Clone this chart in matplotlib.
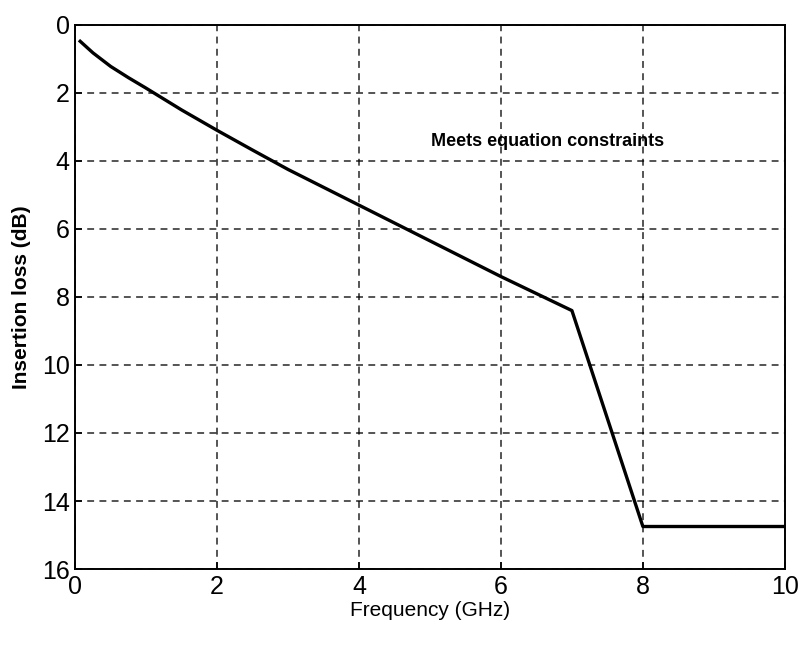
import matplotlib
matplotlib.use('agg')
import matplotlib.pyplot as plt
from matplotlib import font_manager

# insertion loss curve
freq = [0.07, 0.25, 0.5, 0.75, 1.0, 1.5, 2.0, 2.5, 3.0, 4.0, 5.0, 6.0, 7.0, 8.0, 10.0]
loss = [0.48, 0.82, 1.22, 1.55, 1.86, 2.5, 3.1, 3.68, 4.25, 5.3, 6.35, 7.4, 8.4, 14.75, 14.75]
xticks = [0, 2, 4, 6, 8, 10]
yticks = [0, 2, 4, 6, 8, 10, 12, 14, 16]

names = {f.name for f in font_manager.fontManager.ttflist}
fam = ['Liberation Sans Narrow', 'DejaVu Sans'] if 'Liberation Sans Narrow' in names else ['Liberation Sans', 'DejaVu Sans']
plt.rcParams['font.family'] = fam

fig = plt.figure(figsize=(8, 6.5), dpi=100)
ax = fig.add_axes([0.094, 0.1246, 0.887, 0.837])

ax.plot(freq, loss, color='black', lw=2.4)

ax.set_xlim(0, 10)
ax.set_ylim(16, 0)
ax.set_xticks(xticks)
ax.set_yticks(yticks)
ax.tick_params(direction='in', length=5, width=1.2, labelsize=18, pad=4)
ax.grid(True, color='black', ls=(0, (4.5, 3.5)), lw=1.1, alpha=0.85)
for s in ax.spines.values():
    s.set_linewidth(1.4)

ax.set_xlabel('Frequency (GHz)', fontsize=15, labelpad=2)
ax.set_ylabel('Insertion loss (dB)', fontsize=15, fontweight='bold', labelpad=8)
ax.text(6.66, 3.44, 'Meets equation constraints', fontsize=13, fontweight='bold',
        ha='center', va='center')

fig.savefig('out.png', dpi=100)
